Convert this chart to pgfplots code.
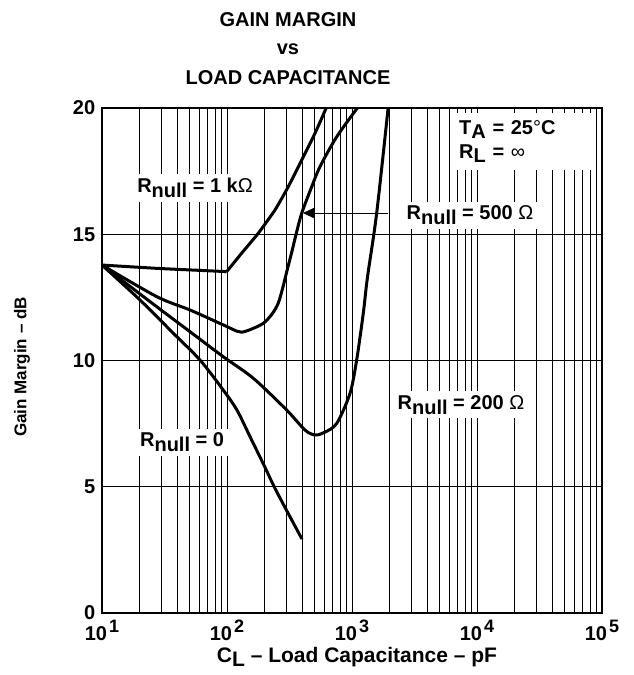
\documentclass[border=0pt]{standalone}
\usepackage{fontspec}
\setmainfont{Liberation Sans}
\usepackage{pgfplots}
\pgfplotsset{compat=1.18}
\usetikzlibrary{arrows.meta}
\newcommand\sub[1]{\raisebox{-0.45ex}{#1}}
\newcommand\rnull{R\sub{null}}
\newcommand\tp[1]{10\kern2pt\raisebox{0.42em}{\fontsize{18}{20}\selectfont #1}}
\begin{document}
\fontsize{20}{24}\selectfont\bfseries
\begin{tikzpicture}[x=1pt,y=1pt]
\begin{axis}[
  at={(0,0)}, anchor=south west,
  xmode=log, scale only axis, width=500pt, height=505pt,
  xmin=10, xmax=100000, ymin=0, ymax=20,
  xtick={10,100,1000,10000,100000},
  xticklabels={\tp{1},\tp{2},\tp{3},\tp{4},\tp{5}},
  ytick={0,5,10,15,20},
  xmajorgrids, xminorgrids, ymajorgrids,
  grid style={black, line width=0.7pt},
  minor grid style={black, line width=0.7pt},
  major tick length=0pt, minor tick length=0pt,
  axis line style={line width=1.6pt},
  ticklabel style={font=\fontsize{20}{24}\selectfont\bfseries},
  /pgf/number format/assume math mode=true,
  clip=true,
]
% R_null = 1 kOhm
\addplot[black, line width=3pt, smooth, tension=0.4] coordinates {
(10,13.78) (27.4,13.65) (60,13.57) (99.5,13.52)};
\addplot[black, line width=3pt, smooth, tension=0.3] coordinates {
(99.5,13.52) (131,14.25) (178,15.04) (242,15.96) (309,16.88) (396,17.94) (506,19.0) (628,20.05)};
% R_null = 500 Ohm
\addplot[black, line width=3pt, smooth, tension=0.5] coordinates {
(10,13.78) (27.4,12.53) (50.6,12.0) (93.3,11.41) (120,11.16) (131,11.12) (153,11.22) (195,11.47) (230,11.85) (257,12.27) (280,12.9) (300,13.5) (330,14.3) (357,15.0) (396,15.83) (476,16.88) (555,17.68) (755,18.86) (1123,20.05)};
% R_null = 200 Ohm
\addplot[black, line width=3pt, smooth, tension=0.5] coordinates {
(10,13.78) (27.4,12.13) (50.6,11.14) (93.3,10.15) (162,9.3) (300,8.04) (420,7.25) (506,7.05) (600,7.15) (755,7.51) (964,8.70) (1090,10.02) (1231,11.87) (1330,13.3) (1575,15.83) (1950,20.05)};
% R_null = 0
\addplot[black, line width=3pt, smooth, tension=0.5] coordinates {
(10,13.78) (20.1,12.4) (37.2,11.08) (60.8,10.02) (93.3,8.83) (120,8.04) (153,6.98) (200,5.8) (250,4.8) (398,2.93)};

\node[fill=white, inner sep=4pt] at (axis cs:55.5,16.83) {\rnull{} = 1 k{\mdseries Ω}};
\draw[line width=0.8pt, -{Triangle[length=12pt,width=11pt]}] (axis cs:1941,15.84) -- (axis cs:405,15.84);
\node[fill=white, inner sep=4pt] at (axis cs:8790,15.76) {\rnull{} = 500 {\mdseries Ω}};
\node[fill=white, inner sep=4pt] at (axis cs:7450,8.24) {\rnull{} = 200 {\mdseries Ω}};
\node[fill=white, inner sep=4pt] at (axis cs:43.7,6.77) {\rnull{} = 0};
\node[fill=white, anchor=north west, inner sep=7pt, text width=127pt, align=left] at (axis cs:6310,19.8)
  {\baselineskip=27pt T\sub{A} = 25{\mdseries°}C\\R\sub{L} = {\mdseries ∞}};
\end{axis}
\node[anchor=base, font=\fontsize{20}{24}\selectfont\bfseries] at (186,586) {GAIN MARGIN};
\node[anchor=base, font=\fontsize{20}{24}\selectfont\bfseries] at (186,558) {vs};
\node[anchor=base, font=\fontsize{20}{24}\selectfont\bfseries] at (186,528) {LOAD CAPACITANCE};
\node[anchor=base, font=\fontsize{21}{24}\selectfont\bfseries] at (255,-49) {C\sub{L} – Load Capacitance – pF};
\node[rotate=90, font=\fontsize{17}{20}\selectfont\bfseries] at (-80,246) {Gain Margin – dB};
\pgfresetboundingbox
\useasboundingbox (-102,-62) rectangle (532,613);
\end{tikzpicture}
\end{document}
